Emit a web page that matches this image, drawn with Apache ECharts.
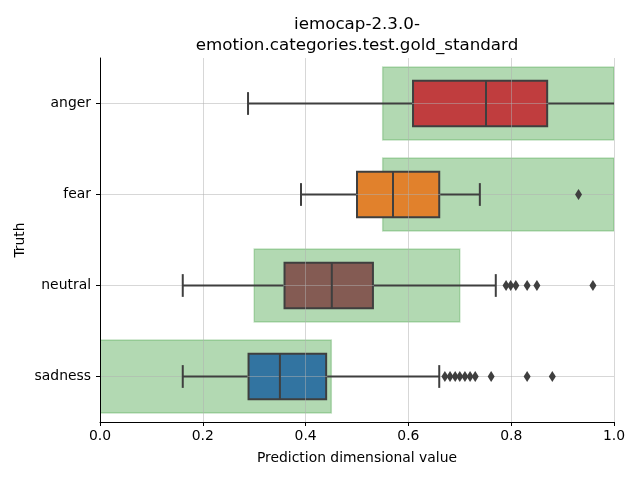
<!DOCTYPE html>
<html>
<head>
<meta charset="utf-8">
<script src="https://cdn.jsdelivr.net/npm/echarts@6/dist/echarts.min.js"></script>
<style>html,body{margin:0;padding:0;background:#fff}#c{width:640px;height:480px}</style>
</head>
<body>
<div id="c"></div>
<script>
const categories = ['anger', 'fear', 'neutral', 'sadness'];
const whiskerLow = [0.288, 0.391, 0.161, 0.161];
const q1 = [0.609, 0.500, 0.359, 0.289];
const median = [0.751, 0.570, 0.451, 0.350];
const q3 = [0.870, 0.660, 0.531, 0.440];
const whiskerHigh = [1.02, 0.739, 0.770, 0.660];
const outliersFear = [0.931];
const outliersNeutral = [0.790, 0.799, 0.809, 0.831, 0.850, 0.959];
const outliersSadness = [0.671, 0.681, 0.691, 0.700, 0.710, 0.720, 0.730, 0.761, 0.831, 0.880];
const goldStart = [0.55, 0.55, 0.30, 0.00];
const goldEnd = [1.00, 1.00, 0.70, 0.45];
const boxColors = ['#c03d3e', '#e1812c', '#845b53', '#3274a1'];

const FONT = 'DejaVu Sans';
const EDGE = '#3f3f3f';
const GRIDC = 'rgba(176,176,176,0.5)';

const boxData = categories.map((c, i) => [i, whiskerLow[i], q1[i], median[i], q3[i], whiskerHigh[i]]);
const goldData = categories.map((c, i) => [i, goldStart[i], goldEnd[i]]);
const outlierData = [];
outliersFear.forEach(v => outlierData.push([v, 1]));
outliersNeutral.forEach(v => outlierData.push([v, 2]));
outliersSadness.forEach(v => outlierData.push([v, 3]));

const chart = echarts.init(document.getElementById('c'), null, {renderer: 'canvas'});

function clampX(x, cs) { return Math.max(cs.x, Math.min(cs.x + cs.width, x)); }

function boxGeom(params, api) {
  const i = api.value(0);
  const band = api.size([0, 1])[1];
  return {
    i: i,
    bh: band * 0.5,
    y: api.coord([0, i])[1],
    xl: api.coord([api.value(1), i])[0],
    xq1: api.coord([api.value(2), i])[0],
    xm: api.coord([api.value(3), i])[0],
    xq3: api.coord([api.value(4), i])[0],
    xh: api.coord([api.value(5), i])[0]
  };
}

chart.setOption({
  animation: false,
  backgroundColor: '#ffffff',
  textStyle: {fontFamily: FONT},
  title: {
    text: 'iemocap-2.3.0-\nemotion.categories.test.gold_standard',
    left: 357,
    textAlign: 'center',
    top: 14,
    padding: 0,
    textStyle: {fontFamily: FONT, fontSize: 16.7, fontWeight: 'normal', color: '#000', lineHeight: 21}
  },
  grid: {left: 100, right: 26, top: 58, bottom: 58},
  xAxis: {
    type: 'value', min: 0, max: 1, interval: 0.2, z: 3,
    name: 'Prediction dimensional value', nameLocation: 'middle', nameGap: 29,
    nameTextStyle: {fontFamily: FONT, fontSize: 13.9, color: '#000'},
    axisLine: {show: true, lineStyle: {color: '#000', width: 1}},
    axisTick: {show: true, length: 4, lineStyle: {color: '#000'}},
    axisLabel: {fontFamily: FONT, fontSize: 13.9, color: '#000', margin: 7, formatter: v => v.toFixed(1)},
    splitLine: {show: true, lineStyle: {color: GRIDC, width: 1}}
  },
  yAxis: {
    type: 'category', data: categories, inverse: true, z: 3,
    name: 'Truth', nameLocation: 'middle', nameGap: 73, nameRotate: 90, nameMoveOverlap: false,
    nameTextStyle: {fontFamily: FONT, fontSize: 13.9, color: '#000'},
    axisLine: {show: true, lineStyle: {color: '#000', width: 1}},
    axisTick: {show: true, alignWithLabel: true, length: 4, lineStyle: {color: '#000'}},
    axisLabel: {fontFamily: FONT, fontSize: 13.9, color: '#000', margin: 9},
    splitLine: {show: false}
  },
  series: [
    {
      name: 'gold', type: 'custom', z: 1, clip: true,
      encode: {y: 0, x: [1, 2]},
      data: goldData,
      renderItem: function (params, api) {
        const i = api.value(0);
        const p0 = api.coord([api.value(1), i]);
        const p1 = api.coord([api.value(2), i]);
        const band = api.size([0, 1])[1];
        const h = band * 0.8;
        return {
          type: 'rect',
          shape: {x: p0[0], y: p0[1] - h / 2, width: p1[0] - p0[0], height: h},
          style: {fill: 'rgba(0,128,0,0.3)', stroke: 'rgba(0,128,0,0.22)', lineWidth: 1.5}
        };
      }
    },
    {
      name: 'boxes', type: 'custom', z: 2, clip: true,
      encode: {y: 0, x: [1, 2, 3, 4, 5]},
      data: boxData,
      renderItem: function (params, api) {
        const g = boxGeom(params, api);
        return {
          type: 'rect',
          shape: {x: g.xq1, y: g.y - g.bh / 2, width: g.xq3 - g.xq1, height: g.bh},
          style: {fill: boxColors[g.i], stroke: EDGE, lineWidth: 2}
        };
      }
    },
    {
      name: 'hgrid', type: 'custom', z: 3, silent: true,
      encode: {y: 0},
      data: categories.map((c, i) => [i]),
      renderItem: function (params, api) {
        const cs = params.coordSys;
        const y = api.coord([0, api.value(0)])[1];
        return {
          type: 'line',
          shape: {x1: cs.x, y1: y, x2: cs.x + cs.width, y2: y},
          style: {stroke: GRIDC, lineWidth: 1}
        };
      }
    },
    {
      name: 'whiskers', type: 'custom', z: 4, clip: true,
      encode: {y: 0, x: [1, 2, 3, 4, 5]},
      data: boxData,
      renderItem: function (params, api) {
        const cs = params.coordSys;
        const g = boxGeom(params, api);
        const capH = g.bh * 0.5;
        const ls = {stroke: EDGE, lineWidth: 2};
        const y = g.y;
        const children = [
          {type: 'line', shape: {x1: clampX(g.xl, cs), y1: y, x2: g.xq1 - 1, y2: y}, style: ls},
          {type: 'line', shape: {x1: g.xq3 + 1, y1: y, x2: clampX(g.xh, cs), y2: y}, style: ls},
          {type: 'line', shape: {x1: g.xm, y1: y - g.bh / 2, x2: g.xm, y2: y + g.bh / 2}, style: ls}
        ];
        if (g.xl >= cs.x && g.xl <= cs.x + cs.width) {
          children.push({type: 'line', shape: {x1: g.xl, y1: y - capH / 2, x2: g.xl, y2: y + capH / 2}, style: ls});
        }
        if (g.xh >= cs.x && g.xh <= cs.x + cs.width) {
          children.push({type: 'line', shape: {x1: g.xh, y1: y - capH / 2, x2: g.xh, y2: y + capH / 2}, style: ls});
        }
        return {type: 'group', children: children};
      }
    },
    {
      name: 'outliers', type: 'scatter', z: 4,
      data: outlierData,
      symbol: 'diamond', symbolSize: [7, 11],
      itemStyle: {color: EDGE, opacity: 1}
    }
  ]
});
</script>
</body>
</html>
